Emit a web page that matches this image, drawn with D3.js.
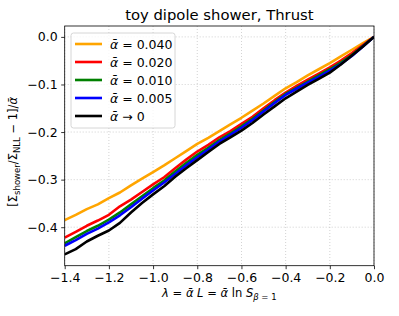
<!DOCTYPE html>
<html>
<head>
<meta charset="utf-8">
<script src="https://cdn.jsdelivr.net/npm/d3@7"></script>
<style>
body { margin: 0; background: #fff; }
svg { font-family: "DejaVu Sans", sans-serif; }
</style>
</head>
<body>
<svg id="chart" width="399" height="316"></svg>
<script>
var lambdas = [-1.40,-1.35,-1.30,-1.25,-1.20,-1.15,-1.10,-1.05,-1.00,-0.95,-0.90,-0.85,-0.80,-0.75,-0.70,-0.65,-0.60,-0.55,-0.50,-0.45,-0.40,-0.35,-0.30,-0.25,-0.20,-0.15,-0.10,-0.05,0.00];

var alpha040 = [-0.385,-0.374,-0.362,-0.352,-0.339,-0.327,-0.312,-0.298,-0.284,-0.270,-0.255,-0.240,-0.225,-0.212,-0.198,-0.184,-0.170,-0.155,-0.140,-0.124,-0.108,-0.095,-0.081,-0.068,-0.055,-0.041,-0.027,-0.013,0];
var alpha020 = [-0.422,-0.410,-0.397,-0.386,-0.374,-0.356,-0.342,-0.326,-0.310,-0.295,-0.276,-0.258,-0.241,-0.227,-0.211,-0.198,-0.183,-0.168,-0.150,-0.133,-0.117,-0.103,-0.090,-0.077,-0.064,-0.050,-0.034,-0.017,0];
var alpha010 = [-0.434,-0.421,-0.408,-0.397,-0.384,-0.369,-0.352,-0.335,-0.318,-0.302,-0.283,-0.265,-0.248,-0.233,-0.217,-0.203,-0.188,-0.172,-0.155,-0.137,-0.120,-0.107,-0.094,-0.081,-0.068,-0.054,-0.038,-0.019,0];
var alpha005 = [-0.439,-0.427,-0.414,-0.403,-0.390,-0.375,-0.358,-0.340,-0.323,-0.306,-0.288,-0.270,-0.253,-0.237,-0.220,-0.206,-0.191,-0.175,-0.157,-0.139,-0.122,-0.109,-0.096,-0.084,-0.071,-0.057,-0.040,-0.020,0];
var alpha000 = [-0.457,-0.446,-0.430,-0.418,-0.407,-0.391,-0.369,-0.349,-0.331,-0.314,-0.294,-0.276,-0.259,-0.242,-0.225,-0.211,-0.197,-0.181,-0.163,-0.146,-0.129,-0.115,-0.101,-0.088,-0.075,-0.058,-0.039,-0.020,0];

var seriesNames = ["0.040", "0.020", "0.010", "0.005", "0"];
var seriesValues = [alpha040, alpha020, alpha010, alpha005, alpha000];
var seriesColors = ["orange", "red", "green", "blue", "black"];

var xTicks = [-1.4,-1.2,-1.0,-0.8,-0.6,-0.4,-0.2,0.0];
var yTicks = [0.0,-0.1,-0.2,-0.3,-0.4];

var svg = d3.select("#chart");
var margin = {left: 64.7, right: 25, top: 26, bottom: 50.3};
var W = 399, H = 316;

var x = d3.scaleLinear().domain([-1.4, 0]).range([margin.left, W - margin.right]);
var y = d3.scaleLinear().domain([-0.4809, 0.0229]).range([H - margin.bottom, margin.top]);

function fmt(v) {
	return d3.format(".1f")(v).replace("-", "\u2212");
}

// grid
var grid = svg.append("g");
grid.selectAll(".gx").data(xTicks).enter().append("line")
	.attr("x1", function(d){ return x(d); }).attr("x2", function(d){ return x(d); })
	.attr("y1", margin.top).attr("y2", H - margin.bottom)
	.attr("stroke", "#b0b0b0").attr("stroke-width", 0.8).attr("stroke-dasharray", "1,2").attr("opacity", 0.7);
grid.selectAll(".gy").data(yTicks).enter().append("line")
	.attr("y1", function(d){ return y(d); }).attr("y2", function(d){ return y(d); })
	.attr("x1", margin.left).attr("x2", W - margin.right)
	.attr("stroke", "#b0b0b0").attr("stroke-width", 0.8).attr("stroke-dasharray", "1,2").attr("opacity", 0.7);

// lines
svg.append("defs").append("clipPath").attr("id", "clip").append("rect")
	.attr("x", margin.left).attr("y", margin.top)
	.attr("width", W - margin.right - margin.left).attr("height", H - margin.bottom - margin.top);

var line = d3.line()
	.x(function(d){ return x(d[0]); })
	.y(function(d){ return y(d[1]); });

var plot = svg.append("g").attr("clip-path", "url(#clip)");
for (var i=0; i<seriesValues.length; i++) {
	var pts = lambdas.map(function(l, j){ return [l, seriesValues[i][j]]; });
	plot.append("path").datum(pts)
		.attr("d", line)
		.attr("fill", "none")
		.attr("stroke", seriesColors[i])
		.attr("stroke-width", 2.6)
		.attr("stroke-linejoin", "round");
}

// axes
var xAxis = svg.append("g").attr("transform", "translate(0," + (H - margin.bottom) + ")")
	.call(d3.axisBottom(x).tickValues(xTicks).tickFormat(fmt).tickSize(3.5).tickPadding(3.5));
var yAxis = svg.append("g").attr("transform", "translate(" + margin.left + ",0)")
	.call(d3.axisLeft(y).tickValues(yTicks).tickFormat(fmt).tickSize(3.5).tickPadding(3.5));
[xAxis, yAxis].forEach(function(a){
	a.selectAll("text").attr("font-size", 12.5).attr("font-family", "DejaVu Sans").attr("fill", "#000");
	a.selectAll("line").attr("stroke", "#000").attr("stroke-width", 0.8);
	a.select(".domain").remove();
});

svg.append("rect")
	.attr("x", margin.left).attr("y", margin.top)
	.attr("width", W - margin.right - margin.left).attr("height", H - margin.bottom - margin.top)
	.attr("fill", "none").attr("stroke", "#000").attr("stroke-width", 0.8);

// title
svg.append("text").attr("x", x(-0.7)).attr("y", 20)
	.attr("text-anchor", "middle").attr("font-size", 14.8).text("toy dipole shower, Thrust");

// x label
var xl = svg.append("text").attr("x", x(-0.7)).attr("y", 297)
	.attr("text-anchor", "middle").attr("font-size", 11.5);
xl.append("tspan").attr("font-style", "italic").text("\u03bb");
xl.append("tspan").text(" = ");
xl.append("tspan").attr("font-style", "italic").text("\u1fb1 L");
xl.append("tspan").text(" = ");
xl.append("tspan").attr("font-style", "italic").text("\u1fb1");
xl.append("tspan").text(" ln ");
xl.append("tspan").attr("font-style", "italic").text("S");
xl.append("tspan").attr("font-size", 8.5).attr("dy", 2.5).attr("font-style", "italic").text("\u03b2");
xl.append("tspan").attr("font-size", 8.5).text(" = 1");

// y label
var yl = svg.append("text")
	.attr("transform", "translate(17," + ((margin.top + H - margin.bottom) / 2 + 6) + ") rotate(-90)")
	.attr("text-anchor", "middle").attr("font-size", 11.5);
yl.append("tspan").text("[\u03a3");
yl.append("tspan").attr("font-size", 8.5).attr("dy", 2.5).text("shower");
yl.append("tspan").attr("dy", -2.5).text("/\u03a3");
yl.append("tspan").attr("font-size", 8.5).attr("dy", 2.5).text("NLL");
yl.append("tspan").attr("dy", -2.5).text(" \u2212 1]/");
yl.append("tspan").attr("font-style", "italic").text("\u1fb1");

// legend
var lg = svg.append("g");
lg.append("rect").attr("x", 71).attr("y", 33).attr("width", 104).attr("height", 95)
	.attr("rx", 2.5).attr("fill", "#fff").attr("fill-opacity", 0.8)
	.attr("stroke", "#ccc").attr("stroke-width", 0.8);
seriesNames.forEach(function(name, i){
	var cy = 44 + i * 18;
	lg.append("line").attr("x1", 75).attr("x2", 102).attr("y1", cy).attr("y2", cy)
		.attr("stroke", seriesColors[i]).attr("stroke-width", 2.6);
	var t = lg.append("text").attr("x", 110).attr("y", cy + 4.5).attr("font-size", 12.5);
	t.append("tspan").attr("font-style", "italic").text("\u1fb1");
	t.append("tspan").text(name === "0" ? " \u2192 0" : " = " + name);
});
</script>
</body>
</html>
